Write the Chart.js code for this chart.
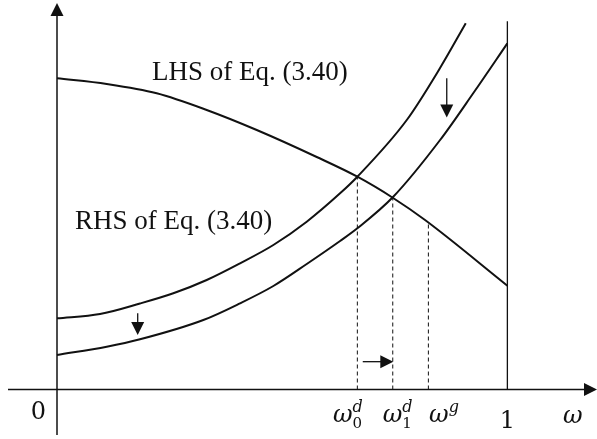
<!DOCTYPE html>
<html>
<head>
<meta charset="utf-8">
<script src="https://cdn.jsdelivr.net/npm/chart.js@4.4.1/dist/chart.umd.min.js"></script>
<style>
    html, body { margin: 0; padding: 0; background: #fff; }
    canvas { display: block; }
</style>
</head>
<body>
<canvas id="chartEquilibrio" width="597" height="439"></canvas>
<script>
// Curvas (x = omega, y = valor de cada lado de la ecuación)
const lhsX = [0, 0.1104, 0.2214, 0.3324, 0.4435, 0.5767, 0.6669, 0.7455, 0.8172, 1.0];
const lhsY = [0.8052, 0.7904, 0.7664, 0.7232, 0.6714, 0.6016, 0.5506, 0.4962, 0.4385, 0.2686];
const rhsAltaX = [0, 0.0955, 0.1843, 0.2583, 0.3324, 0.4064, 0.4804, 0.5545, 0.6285, 0.6669, 0.7766, 0.8505, 0.9076];
const rhsAltaY = [0.1842, 0.1953, 0.2225, 0.2489, 0.2833, 0.3265, 0.3739, 0.4342, 0.5076, 0.5506, 0.6973, 0.8318, 0.9475];
const rhsBajaX = [0, 0.1104, 0.1843, 0.3249, 0.4064, 0.4804, 0.5545, 0.6285, 0.6669, 0.7455, 0.8506, 0.9245, 1.0];
const rhsBajaY = [0.0893, 0.1107, 0.1299, 0.1798, 0.2230, 0.2678, 0.3247, 0.3842, 0.4171, 0.4973, 0.6455, 0.7671, 0.8957];

// Líneas punteadas: omega0d, omega1d, omegag
const marcasX = [0.6669, 0.7455, 0.8246];
const marcasAltura = [0.551, 0.496, 0.434];
const limiteX = 1.0;
const limiteAltura = 0.953;

// Etiquetas del eje x
const etiquetasX = [0.6129, 0.7233, 0.8261];
const etiquetasSub = ['0', '1', ''];
const etiquetasSup = ['d', 'd', 'g'];

// Flechas [x1, y1, x2, y2]
const flechas = [
    [0.8654, 0.805, 0.8654, 0.704],
    [0.1792, 0.197, 0.1792, 0.141],
    [0.6789, 0.072, 0.7468, 0.072]
];

const negro = '#111';

function puntos(xs, ys) {
    return xs.map((x, i) => ({ x: x, y: ys[i] }));
}

function curva(xs, ys) {
    return {
        data: puntos(xs, ys),
        showLine: true,
        borderColor: negro,
        borderWidth: 2,
        pointRadius: 0,
        cubicInterpolationMode: 'monotone'
    };
}

function recta(x, alto, dash, ancho) {
    return {
        data: [{ x: x, y: 0 }, { x: x, y: alto }],
        showLine: true,
        borderColor: negro,
        borderWidth: ancho,
        borderDash: dash,
        pointRadius: 0
    };
}

function punta(ctx, x1, y1, x2, y2, largo, ancho) {
    const ang = Math.atan2(y2 - y1, x2 - x1);
    ctx.beginPath();
    ctx.moveTo(x2, y2);
    ctx.lineTo(x2 - largo * Math.cos(ang) + ancho * Math.sin(ang), y2 - largo * Math.sin(ang) - ancho * Math.cos(ang));
    ctx.lineTo(x2 - largo * Math.cos(ang) - ancho * Math.sin(ang), y2 - largo * Math.sin(ang) + ancho * Math.cos(ang));
    ctx.closePath();
    ctx.fill();
}

function flecha(ctx, x1, y1, x2, y2, largo, ancho, grosor) {
    const ang = Math.atan2(y2 - y1, x2 - x1);
    ctx.lineWidth = grosor;
    ctx.beginPath();
    ctx.moveTo(x1, y1);
    ctx.lineTo(x2 - (largo - 1) * Math.cos(ang), y2 - (largo - 1) * Math.sin(ang));
    ctx.stroke();
    punta(ctx, x1, y1, x2, y2, largo, ancho);
}

// Ejes, flechas y textos
const extras = {
    id: 'extras',
    afterDatasetsDraw(chart) {
        const ctx = chart.ctx;
        const sx = chart.scales.x, sy = chart.scales.y;
        const px = v => sx.getPixelForValue(v);
        const py = v => sy.getPixelForValue(v);
        ctx.save();
        ctx.strokeStyle = negro;
        ctx.fillStyle = negro;

        // ejes
        flecha(ctx, px(sx.min), py(0), px(sx.max), py(0), 13, 6.5, 1.5);
        flecha(ctx, px(0), py(sy.min), px(0), py(sy.max), 13, 6.5, 1.5);

        flechas.forEach(f => {
            flecha(ctx, px(f[0]), py(f[1]), px(f[2]), py(f[3]), 13, 6.5, 1.3);
        });

        // textos de las curvas
        ctx.font = '27px "Liberation Serif"';
        ctx.textBaseline = 'alphabetic';
        ctx.textAlign = 'left';
        ctx.fillText('LHS of Eq. (3.40)', px(0.211), py(0.801));
        ctx.fillText('RHS of Eq. (3.40)', px(0.040), py(0.415));

        // etiquetas del eje
        const base = py(0);
        ctx.font = '24px "DejaVu Serif"';
        ctx.textAlign = 'center';
        ctx.fillText('0', px(-0.0415), base + 29);
        ctx.fillText('1', px(1.0), base + 38);

        etiquetasX.forEach((x, i) => {
            const x0 = px(x);
            ctx.textAlign = 'left';
            ctx.font = 'italic 24px "DejaVu Serif"';
            ctx.fillText('\u03c9', x0, base + 32);
            const w = ctx.measureText('\u03c9').width;
            ctx.font = '15px "DejaVu Serif"';
            if (etiquetasSub[i]) ctx.fillText(etiquetasSub[i], x0 + w, base + 38);
            ctx.font = 'italic 16px "DejaVu Serif"';
            ctx.fillText(etiquetasSup[i], x0 + w, base + 22);
        });

        ctx.font = 'italic 24px "DejaVu Serif"';
        ctx.fillText('\u03c9', px(1.1237), base + 33);
        ctx.restore();
    }
};

function crearGrafico() {
    const ctx = document.getElementById('chartEquilibrio').getContext('2d');
    const datasets = [
        curva(lhsX, lhsY),
        curva(rhsAltaX, rhsAltaY),
        curva(rhsBajaX, rhsBajaY),
        recta(limiteX, limiteAltura, [], 1.3)
    ];
    marcasX.forEach((x, i) => datasets.push(recta(x, marcasAltura[i], [4, 3], 1)));

    new Chart(ctx, {
        type: 'scatter',
        data: { datasets: datasets },
        options: {
            responsive: false,
            animation: false,
            layout: { padding: { left: 8, right: 0, top: 3, bottom: 4 } },
            plugins: {
                legend: { display: false },
                tooltip: { enabled: false }
            },
            scales: {
                x: { type: 'linear', display: false, min: -0.1088, max: 1.199 },
                y: { type: 'linear', display: false, min: -0.1177, max: 1.0 }
            }
        },
        plugins: [extras]
    });
}

crearGrafico();
</script>
</body>
</html>
